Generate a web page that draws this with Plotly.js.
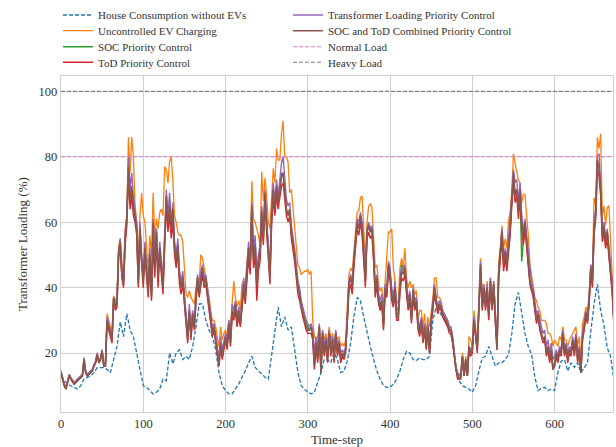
<!DOCTYPE html>
<html>
<head>
<meta charset="utf-8">
<script src="https://cdn.plot.ly/plotly-3.0.1.min.js"></script>
<style>html,body{margin:0;padding:0;background:#fff;}#chart{width:616px;height:447px;}</style>
</head>
<body>
<div id="chart"></div>
<script>
// Time-step sampling of the read-off values
const stepFine = 2;   // controlled + uncontrolled series
const stepCoarse = 4; // house consumption

const houseLoad = [
13,11.5,10.5,10,9.5,9,10,12,12.5,13,
14,15.5,15.5,15.5,15,14,18,22,29.5,25,
32,27,25,20,15,10,9.5,8.5,7.5,8,
9,12,11.5,20,16.7,20,21,18,19,18,
22,28,35,35,30,27,25,21,14,10,
8.5,7.5,7.5,9,10.5,12.6,14.5,17,19,15.6,
14.6,13.6,12.6,12,19,26,34,28,31,27,
28,21,14,10,9,8,7.5,8,11,14,
18,18,17,20,18,14,14.5,17.5,23,31,
37,36,31,26,22,18,14.5,12,10,9.5,
9.5,10.5,12,14.5,18,20.5,20,18,17.7,18.5,
18,18,19,30,34,32.5,31,29.5,27.5,23.5,
16,11.5,10,9.5,9,8,10,14.5,18.5,19,
22,19,16,17,17,18,19.5,26,35,38.5,
32,26,22,19.7,12.6,8.5,9.2,9.5,8.5,9,
8.5,14,17.5,18,14.5,17,15.6,17,14,15.6,
17,26.5,35,41,33,28.5,21.5,19,12
];

const uncontrolled = [
14.5,12.5,10.5,9.5,11.5,13.5,12.5,11.5,11,11.5,
12,12.5,13,13.5,18.5,14.5,13.5,14,14.5,15,
16.5,17.5,20,17.5,18.5,21,16.5,17,32,30,
28,25,37.5,36,37,52.5,55,47,44,58,
62,86,75,86,80,65,60,48,62,69,
62,60,52,45,56,50,69,55,61,58,
63,64,62,77,76,72,78.5,80,72.5,62,
60,57,56,56,54,47,38,37,39,37,
36,35,40,43,42,50,49,46,44,40,
37,33,30,30,28,25,22,28,24,26,
27,25,30,28,36,42,37,34,36,33,
41,42,40,48,52,50,72.5,61,60,58,
56,53,75.5,66.5,73.5,68,60,58,70,76.5,
72,82.5,79,79,87,91,80,80,78.5,69,
70,64,58,52,47,46,44,44.5,45,45,
45.5,44,45,30,25,24,25,28.5,22,27,
24,26,23,28,24,26,23,26.5,24,25,
22,23,22,24,33,44,46,45,51,57,
63,63.5,67.5,68,58,48,60,65,65.5,64.5,
55,46,47,41,39,40,34,43,52,57,
57,58,46,42,35,36,46,49,46,52,
43,40,42,40,41,38,39,30,33,33,
28,32,26,31,28,32,37,43,43,37,
37,36,33,32,31,30,28,28,25,21,
16,14,13,14,20,14,19,14,25,24,
22,33,28,23,36,49,37,41,36,42,
33,43,36,42,32,23,48,52,59,52,
55,52,60.5,63,69.5,81,78,75.5,73,72,
66,68.5,68.5,62,56,47,44,40,37,36,
34,33,30,30,30,29,26,26,25,22,
24,23,22,25,24,28,24,24,22,24,
25,26,27,28,22,25,18,29,31,34,
33,38,47,45,67.5,65,86,82.5,87,62,
65,59,64.5,65,55,43,38
];

const socControl = [
14,12,10,9,11,13,12,11,10.5,11,
11.5,12,12.5,13,18,14,13,13.5,14,14.5,
16,17,19.5,17,18,20.5,16,16,30,28,
26,24,37,34,35,51,53,44,42,55,
61,76,68,71,66,62,58,42,58,49,
43,52,46,39,50,38,59,47,58,44,
52,47,41,55,67,61,67,58,63,53,
49,53,44,40,44,37,31,25,33,26,
32,29,37,43,39,43,45,42,43,38,
34,30,27,28,25,21,17,23,19,22,
25,23,29,24,33,31,35,30,33,29,
35,41,37,46,52,47,64,49,54,42,
49,51,64,56,68,60,52,44,62,70,
65,71,67,70,75,75,69,64,62,64,
57,54,50,45,41,38,35,33,31,29,
28,27,28,26,17,24,19,28,15,26,
21,24,19,26,21,24,19,26,21,23,
19,20,19,21,30,41,43,41,48,55,
60,58,62,59,51,43,57,59,57,58,
50,39,43,37,35,36,29,40,38,47,
44,38,36,40,32,32,41,47,46,46,
40,35,38,31,39,34,36,29,27,30,
25,28,22,28,21,30,34,40,36,33,
35,34,32,31,30,29,27,27,24,20,
15,13,12,13,19,13,18,13,22,20,
21,30,26,21,34,47,35,40,35,40,
32,42,34,41,31,22,44,50,57,48,
51,48,54,58,67,74,69,70,64,70,
48,55,60,54,49,42,40,38,34,30,
32,28,26,24,25,20,22,18,21,15,
17,20,18,21,20,26,20,22,18,21,
20,24,20,25,18,21,14,25,28,32,
30,36,46,42,58,63,78,77,70,56,
59,54,57,50,45,40,30
];

const todControl = [
14,12,10,9,11,13,12,11,10.5,11,
11.5,12,12.5,13,18,14,13,13.5,14,14.5,
16,17,19.5,17,18,20.5,16,16,29,27,
25,23,36,33,34,49,52,43,40,53,
59,74,64,68,62,60,56,40,55,46,
40,50,43,37,48,36,54,43,55,40,
50,44,38,52,65,57,62,55,60,50,
46,51,41,38,41,35,29,23,32,24,
31,27,35,42,37,41,44,40,41,37,
33,29,25,27,23,19,16,22,18,21,
24,21,28,22,31,30,33,28,31,28,
33,39,35,44,49,44,62,46,50,36,
45,48,60,53,66,57,50,41,59,67,
62,68,64,67,71,72,66,62,60,62,
55,52,48,43,38,36,33,31,29,27,
26,26,26,24,15,22,17,26,14,25,
19,23,17,25,19,23,17,25,19,22,
17,19,18,20,29,39,41,38,46,53,
58,56,60,56,48,40,55,57,55,56,
48,37,41,35,33,35,27,38,37,45,
42,36,34,38,30,30,38,43,42,44,
38,33,36,29,37,33,35,27,25,29,
23,27,21,27,20,29,33,38,35,32,
34,33,31,30,29,28,26,26,23,19,
15,12,12,12,18,13,17,13,21,19,
20,29,25,20,33,45,33,38,33,38,
30,40,33,39,29,21,42,48,55,45,
49,45,51,56,65,72,66,68,61,67,
58,53,58,52,46,41,39,37,33,29,
31,27,25,23,24,19,21,17,20,15,
16,19,17,20,19,25,19,21,17,20,
19,23,19,24,17,20,14,24,27,31,
29,35,44,40,56,61,76,74,68,54,
57,52,55,48,44,38,29
];

const transformerControl = [
14.5,12.5,10.5,9.5,11.5,13.5,12.5,11.5,11,11.5,
12,12.5,13,13.5,18.5,14.5,13.5,14,14.5,15,
16.5,17.5,20,17.5,18.5,21,16.5,17,31,29,
27,25,37,35,36,51,55,45,42,57,
62,80,70,75,68,63,60,43,60,50,
44,54,47,40,52,40,61,48,58,45,
54,48,43,56,70,62,69,60,66,54,
50,55,45,42,45,38,32,26,35,27,
33,30,37,44,40,45,47,43,44,40,
35,31,28,29,26,22,18,25,21,24,
26,24,30,25,35,33,36,31,34,30,
36,43,39,48,54,48,66,51,56,44,
50,53,65,58,70,61,54,46,64,72,
66,73,68,73,78,80,72,67,65,66,
59,56,52,47,42,40,36,34,32,30,
29,28,29,27,20,25,21,29,18,27,
22,25,20,27,22,25,20,27,22,24,
20,21,20,22,31,42,44,42,49,56,
61,60,63,60,52,45,58,60,58,59,
51,41,44,38,36,38,31,41,40,48,
46,40,37,42,34,33,41,46,45,47,
41,36,39,32,40,36,37,30,28,31,
26,29,24,29,23,31,35,41,37,34,
36,35,33,32,31,30,28,28,25,21,
16,14,13,14,19,14,18,14,22,21,
22,31,27,22,35,48,36,41,36,41,
33,43,35,42,32,23,45,51,58,49,
52,49,55,60,68,76,72,73,66,72,
62,57,61,56,51,45,42,40,36,32,
33,30,28,26,27,22,24,20,23,18,
19,21,19,22,21,27,21,23,20,22,
21,25,22,26,20,22,17,26,29,33,
31,37,47,44,60,64,80,81,72,58,
60,55,58,52,47,42,31
];

const combinedControl = [
14,12,10,9,11,13,12,11,10.5,11,
11.5,12,12.5,13,18,14,13,13.5,14,14.5,
16,17,19.5,17,18,20.5,16,16,30,28,
26,24,37,34,35,50,54,44,41,55,
61,77,67,70,65,62,58,41,58,48,
42,52,45,38,50,37,60,46,57,43,
52,46,40,54,68,60,65,58,64,52,
48,53,43,40,43,36,30,24,33,25,
32,28,36,43,38,43,46,41,43,38,
34,30,26,28,24,20,16,23,19,22,
25,22,29,23,33,31,35,29,33,29,
35,41,37,46,52,46,65,48,53,41,
48,51,63,55,69,59,52,43,62,70,
64,71,66,70,74,75,68,64,62,64,
57,54,50,45,40,38,34,32,30,28,
27,27,28,25,16,23,18,28,14,26,
20,24,18,26,20,24,18,26,20,23,
18,20,19,21,30,41,43,40,48,55,
60,58,62,58,50,42,57,59,57,58,
50,38,43,36,34,36,28,40,38,47,
44,38,35,40,31,31,40,45,44,46,
40,34,38,30,39,34,36,28,26,30,
24,28,22,28,20,30,34,40,36,33,
35,34,32,31,30,29,27,27,24,20,
15,13,12,13,19,13,18,13,22,20,
21,30,26,21,34,47,34,40,34,40,
31,42,34,41,30,21,44,50,57,47,
51,47,53,58,67,75,68,70,63,70,
60,55,60,54,48,42,40,38,34,30,
32,28,26,24,25,20,22,18,21,15,
16,20,18,21,20,26,20,22,18,21,
20,24,20,25,18,21,14,25,28,32,
30,36,46,42,58,63,79,77,70,56,
59,54,57,50,45,40,30
];

const normalLoad = 80;
const heavyLoad = 100;
const timeRange = [0, 671];
const xTicks = [0, 100, 200, 300, 400, 500, 600];
const yTicks = [20, 40, 60, 80, 100];

const names = [
  "House Consumption without EVs",
  "Uncontrolled EV Charging",
  "SOC Priority Control",
  "ToD Priority Control",
  "Transformer Loading Priority Control",
  "SOC and ToD Combined Priority Control",
  "Normal Load",
  "Heavy Load"
];
const colors = ["#1f77b4","#ff7f0e","#2ca02c","#d62728","#9467bd","#8c564b","#e377c2","#7f7f7f"];

const FONT = "Liberation Serif";

function series(i, y, step, width, dash) {
  return {
    type: "scatter", mode: "lines", name: names[i],
    x0: 0, dx: step, y: y,
    line: {color: colors[i], width: width, dash: dash || "solid"},
    legend: i === 0 ? "legend" : "legend" + (i + 1),
    hoverinfo: "skip"
  };
}

const traces = [
  series(0, houseLoad, stepCoarse, 1.3, "4px,2px"),
  series(1, uncontrolled, stepFine, 1.3),
  series(2, socControl, stepFine, 1.4),
  series(3, todControl, stepFine, 1.4),
  series(4, transformerControl, stepFine, 1.4),
  series(5, combinedControl, stepFine, 1.6),
  {type:"scatter", mode:"lines", name:names[6], x:timeRange, y:[normalLoad, normalLoad],
   line:{color:colors[6], width:1.1, dash:"4px,2px"}, legend:"legend7", hoverinfo:"skip"},
  {type:"scatter", mode:"lines", name:names[7], x:timeRange, y:[heavyLoad, heavyLoad],
   line:{color:colors[7], width:1.1, dash:"4px,2px"}, legend:"legend8", hoverinfo:"skip"}
];

// legend placement (container coordinates): two columns of four rows above the plot
const colX = [0.0942, 0.4675];
const rowY = [0.9664, 0.9313, 0.8955, 0.8606];
const layout = {
  width: 616, height: 447,
  margin: {l: 61, r: 3, t: 76, b: 35, pad: 0, autoexpand: false},
  paper_bgcolor: "#fff", plot_bgcolor: "#fff",
  font: {family: FONT, color: "#333", size: 12.5},
  showlegend: true,
  xaxis: {
    range: timeRange, tickvals: xTicks, ticks: "", showgrid: true,
    gridcolor: "#cfcfcf", gridwidth: 1, zeroline: false,
    showline: true, linecolor: "#cfcfcf", linewidth: 1.25, mirror: true,
    tickfont: {size: 12.5, family: FONT, color: "#333"},
    title: {text: "Time-step", font: {size: 13, family: FONT, color: "#333"}}
  },
  yaxis: {
    range: [1.96, 104.7], tickvals: yTicks, ticks: "", showgrid: true,
    gridcolor: "#cfcfcf", gridwidth: 1, zeroline: false,
    showline: true, linecolor: "#cfcfcf", linewidth: 1.25, mirror: true,
    tickfont: {size: 12.5, family: FONT, color: "#333"}
  },
  annotations: [{
    text: "Transformer Loading (%)", xref: "paper", yref: "paper",
    x: -0.0707, y: 0.5, xanchor: "center", yanchor: "middle",
    textangle: -90, showarrow: false,
    font: {size: 13, family: FONT, color: "#333"}
  }]
};
for (let i = 0; i < 8; i++) {
  const key = i === 0 ? "legend" : "legend" + (i + 1);
  layout[key] = {
    xref: "container", yref: "container",
    x: colX[Math.floor(i / 4)], y: rowY[i % 4], xanchor: "left", yanchor: "middle",
    bgcolor: "rgba(0,0,0,0)", borderwidth: 0,
    font: {family: FONT, size: 11, color: "#333"}
  };
}

Plotly.newPlot("chart", traces, layout, {staticPlot: true, displayModeBar: false});
</script>
</body>
</html>
